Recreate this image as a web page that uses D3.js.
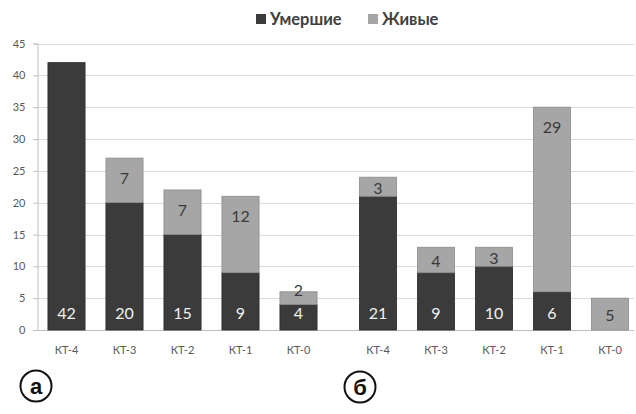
<!DOCTYPE html>
<html>
<head>
<meta charset="utf-8">
<script src="https://cdn.jsdelivr.net/npm/d3@7"></script>
<style>
  html, body { margin: 0; padding: 0; background: #fff; }
  svg { display: block; font-family: Lato, "Open Sans", sans-serif; }
</style>
</head>
<body>
<svg id="chart" width="636" height="414"></svg>
<script>
// Categories (CT grade) shown in each of the two panels
const categories = ["КТ-4", "КТ-3", "КТ-2", "КТ-1", "КТ-0"];

// Panel "а"
const deadA  = [42, 20, 15, 9, 4];
const aliveA = [0, 7, 7, 12, 2];

// Panel "б"
const deadB  = [21, 9, 10, 6, 0];
const aliveB = [3, 4, 3, 29, 5];

const seriesNames = ["Умершие", "Живые"];
const panelLetters = ["а", "б"];
const yTicks = [0, 5, 10, 15, 20, 25, 30, 35, 40, 45];

const colDead = "#3b3b3b";
const colAlive = "#a6a6a6";

const svg = d3.select("#chart");

const y = d3.scaleLinear().domain([0, 45]).range([330, 43.5]);
const plotLeft = 37, plotRight = 634;

// Two band scales, one per panel
const xA = d3.scaleBand().domain(categories).range([37.5, 327.5]).paddingInner(0.36).paddingOuter(0.18);
const xB = d3.scaleBand().domain(categories).range([349, 639]).paddingInner(0.36).paddingOuter(0.18);

// Gridlines
svg.append("g").selectAll("line").data(yTicks.filter(d => d > 0)).join("line")
  .attr("x1", plotLeft).attr("x2", plotRight)
  .attr("y1", d => Math.round(y(d)) + 0.5).attr("y2", d => Math.round(y(d)) + 0.5)
  .attr("stroke", "#dadada").attr("stroke-width", 1);

// Baseline
svg.append("line")
  .attr("x1", plotLeft).attr("x2", plotRight)
  .attr("y1", Math.round(y(0)) + 0.5).attr("y2", Math.round(y(0)) + 0.5)
  .attr("stroke", "#bfbfbf");

// Y axis
const yAxis = svg.append("g")
  .attr("transform", `translate(${plotLeft + 0.5},0)`)
  .call(d3.axisLeft(y).tickValues(yTicks).tickSize(4).tickPadding(8));
yAxis.select(".domain").attr("stroke", "#bfbfbf");
yAxis.selectAll(".tick line").attr("stroke", "#bfbfbf");
yAxis.selectAll(".tick text").attr("fill", "#595959").attr("font-size", 11).attr("font-family", "Lato, sans-serif");

function drawPanel(x, dead, alive) {
  const rows = categories.map((c, i) => ({ c, dead: dead[i], alive: alive[i] }));
  const g = svg.append("g");

  // dead segment
  g.selectAll("rect.dead").data(rows.filter(r => r.dead > 0)).join("rect")
    .attr("class", "dead")
    .attr("x", r => x(r.c)).attr("width", x.bandwidth())
    .attr("y", r => y(r.dead)).attr("height", r => y(0) - y(r.dead))
    .attr("fill", colDead).attr("stroke", "#2a2a2a").attr("stroke-width", 0.8);

  // alive segment stacked above
  g.selectAll("rect.alive").data(rows.filter(r => r.alive > 0)).join("rect")
    .attr("class", "alive")
    .attr("x", r => x(r.c)).attr("width", x.bandwidth())
    .attr("y", r => y(r.dead + r.alive)).attr("height", r => y(r.dead) - y(r.dead + r.alive))
    .attr("fill", colAlive).attr("stroke", "#8c8c8c").attr("stroke-width", 0.8);

  // dead labels at the base
  g.selectAll("text.dl").data(rows.filter(r => r.dead > 0)).join("text")
    .attr("x", r => x(r.c) + x.bandwidth() / 2)
    .attr("y", y(0) - 11)
    .attr("text-anchor", "middle").attr("font-size", 16)
    .attr("fill", "#f2f2f2").text(r => r.dead);

  // alive labels near the top of the segment
  g.selectAll("text.al").data(rows.filter(r => r.alive > 0)).join("text")
    .attr("x", r => x(r.c) + x.bandwidth() / 2)
    .attr("y", r => {
      const top = y(r.dead + r.alive), h = y(r.dead) - top;
      return h < 16 ? top + 4 : top + Math.min(26, h / 2 + 7);
    })
    .attr("text-anchor", "middle").attr("font-size", 16)
    .attr("fill", "#3a3a3a").text(r => r.alive);

  // category labels
  g.selectAll("text.cat").data(categories).join("text")
    .attr("x", c => x(c) + x.bandwidth() / 2)
    .attr("y", 354)
    .attr("text-anchor", "middle").attr("font-size", 11)
    .attr("fill", "#595959").text(c => c);
}

drawPanel(xA, deadA, aliveA);
drawPanel(xB, deadB, aliveB);

// Legend
const legend = svg.append("g").attr("font-size", 16.5).attr("font-weight", 700).attr("fill", "#404040");
const legendItems = [
  { name: seriesNames[0], color: colDead, x: 256 },
  { name: seriesNames[1], color: colAlive, x: 368 }
];
legendItems.forEach(it => {
  legend.append("rect").attr("x", it.x).attr("y", 14).attr("width", 10).attr("height", 10).attr("fill", it.color);
  legend.append("text").attr("x", it.x + 14).attr("y", 25).text(it.name);
});

// Panel letters in circles
const letterPos = [{ cx: 36, cy: 386 }, { cx: 360, cy: 387 }];
panelLetters.forEach((t, i) => {
  const p = letterPos[i];
  svg.append("circle").attr("cx", p.cx).attr("cy", p.cy).attr("r", 15.5)
    .attr("fill", "none").attr("stroke", "#111").attr("stroke-width", 2);
  svg.append("text").attr("x", p.cx).attr("y", p.cy + 7.5)
    .attr("text-anchor", "middle").attr("font-size", 22).attr("font-weight", 700)
    .attr("font-family", "'Liberation Sans', Arial, sans-serif")
    .attr("fill", "#111").text(t);
});
</script>
</body>
</html>
